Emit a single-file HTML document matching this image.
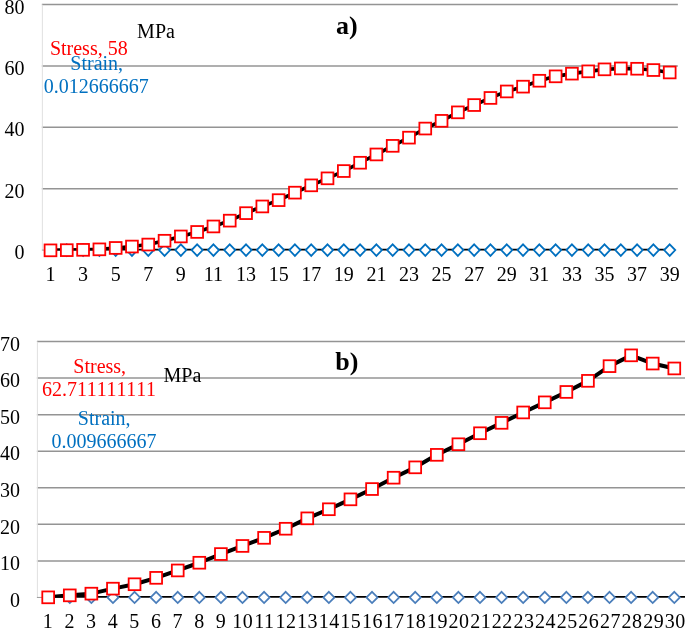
<!DOCTYPE html>
<html lang="en"><head><meta charset="utf-8"><title>Stress-strain charts</title>
<style>
html,body{margin:0;padding:0;background:#fff;}
body{width:685px;height:628px;overflow:hidden;font-family:"Liberation Serif", "Times New Roman", serif;}
svg{display:block;}
</style></head><body>
<svg width="685" height="628" viewBox="0 0 685 628" font-family='"Liberation Serif", "Times New Roman", serif' font-size="20" fill="#000">
<rect width="685" height="628" fill="#fff"/>
<defs><clipPath id="ca"><rect x="0" y="0" width="685" height="250.45"/></clipPath><clipPath id="cb"><rect x="0" y="300" width="685" height="297.75"/></clipPath></defs>
<g stroke="#949494" stroke-width="1.5">
<line x1="41.85" y1="188.72" x2="677.85" y2="188.72"/>
<line x1="41.85" y1="127.35" x2="677.85" y2="127.35"/>
<line x1="41.85" y1="65.97" x2="677.85" y2="65.97"/>
<line x1="41.85" y1="4.6" x2="677.85" y2="4.6"/>
<line x1="36.9" y1="560.89" x2="685" y2="560.89"/>
<line x1="36.9" y1="524.34" x2="685" y2="524.34"/>
<line x1="36.9" y1="487.78" x2="685" y2="487.78"/>
<line x1="36.9" y1="451.23" x2="685" y2="451.23"/>
<line x1="36.9" y1="414.67" x2="685" y2="414.67"/>
<line x1="36.9" y1="378.12" x2="685" y2="378.12"/>
<line x1="36.9" y1="341.56" x2="685" y2="341.56"/>
</g>
<g stroke="#e0e0e0" stroke-width="1">
<line x1="42.35" y1="4.6" x2="42.35" y2="250.1"/>
<line x1="37.4" y1="341.56" x2="37.4" y2="597.45"/>
</g>
<g stroke="#9a9a9a" stroke-width="1">
<line x1="41.85" y1="250.1" x2="50.5" y2="250.1"/>
<line x1="36.9" y1="597.45" x2="48.2" y2="597.45"/>
</g>
<g text-anchor="end">
<text x="24.6" y="259.2">0</text>
<text x="24.6" y="197.82">20</text>
<text x="24.6" y="136.45">40</text>
<text x="24.6" y="75.07">60</text>
<text x="24.6" y="13.7">80</text>
<text x="19.9" y="606.7">0</text>
<text x="19.9" y="570.14">10</text>
<text x="19.9" y="533.59">20</text>
<text x="19.9" y="497.03">30</text>
<text x="19.9" y="460.48">40</text>
<text x="19.9" y="423.92">50</text>
<text x="19.9" y="387.37">60</text>
<text x="19.9" y="350.81">70</text>
</g>
<g text-anchor="middle">
<text x="50.5" y="280.5">1</text>
<text x="83.09" y="280.5">3</text>
<text x="115.68" y="280.5">5</text>
<text x="148.27" y="280.5">7</text>
<text x="180.86" y="280.5">9</text>
<text x="213.45" y="280.5">11</text>
<text x="246.04" y="280.5">13</text>
<text x="278.63" y="280.5">15</text>
<text x="311.22" y="280.5">17</text>
<text x="343.81" y="280.5">19</text>
<text x="376.39" y="280.5">21</text>
<text x="408.98" y="280.5">23</text>
<text x="441.57" y="280.5">25</text>
<text x="474.16" y="280.5">27</text>
<text x="506.75" y="280.5">29</text>
<text x="539.34" y="280.5">31</text>
<text x="571.93" y="280.5">33</text>
<text x="604.52" y="280.5">35</text>
<text x="637.11" y="280.5">37</text>
<text x="669.7" y="280.5">39</text>
<text x="47.8" y="627.6">1</text>
<text x="69.42" y="627.6">2</text>
<text x="91.05" y="627.6">3</text>
<text x="112.69" y="627.6">4</text>
<text x="134.31" y="627.6">5</text>
<text x="155.94" y="627.6">6</text>
<text x="177.58" y="627.6">7</text>
<text x="199.21" y="627.6">8</text>
<text x="220.83" y="627.6">9</text>
<text x="242.72" y="627.6" letter-spacing="0.5">10</text>
<text x="264.34" y="627.6" letter-spacing="0.5">11</text>
<text x="285.98" y="627.6" letter-spacing="0.5">12</text>
<text x="307.61" y="627.6" letter-spacing="0.5">13</text>
<text x="329.23" y="627.6" letter-spacing="0.5">14</text>
<text x="350.87" y="627.6" letter-spacing="0.5">15</text>
<text x="372.5" y="627.6" letter-spacing="0.5">16</text>
<text x="394.12" y="627.6" letter-spacing="0.5">17</text>
<text x="415.75" y="627.6" letter-spacing="0.5">18</text>
<text x="437.39" y="627.6" letter-spacing="0.5">19</text>
<text x="459.01" y="627.6" letter-spacing="0.5">20</text>
<text x="480.64" y="627.6" letter-spacing="0.5">21</text>
<text x="502.27" y="627.6" letter-spacing="0.5">22</text>
<text x="523.9" y="627.6" letter-spacing="0.5">23</text>
<text x="545.53" y="627.6" letter-spacing="0.5">24</text>
<text x="567.17" y="627.6" letter-spacing="0.5">25</text>
<text x="588.79" y="627.6" letter-spacing="0.5">26</text>
<text x="610.42" y="627.6" letter-spacing="0.5">27</text>
<text x="632.06" y="627.6" letter-spacing="0.5">28</text>
<text x="653.68" y="627.6" letter-spacing="0.5">29</text>
<text x="675.31" y="627.6" letter-spacing="0.5">30</text>
</g>
<line x1="50.5" y1="250.1" x2="669.7" y2="250.1" stroke="#000" stroke-width="2.6" clip-path="url(#ca)"/>
<g fill="#fff" stroke="#0070c0" stroke-width="1.8">
<path d="M66.79 244.3L72.34 250.1L66.79 255.9L61.24 250.1Z"/>
<path d="M83.09 244.3L88.64 250.1L83.09 255.9L77.54 250.1Z"/>
<path d="M99.38 244.3L104.93 250.1L99.38 255.9L93.83 250.1Z"/>
<path d="M115.68 244.3L121.23 250.1L115.68 255.9L110.13 250.1Z"/>
<path d="M131.97 244.3L137.52 250.1L131.97 255.9L126.42 250.1Z"/>
<path d="M148.27 244.3L153.82 250.1L148.27 255.9L142.72 250.1Z"/>
<path d="M164.56 244.3L170.11 250.1L164.56 255.9L159.01 250.1Z"/>
<path d="M180.86 244.3L186.41 250.1L180.86 255.9L175.31 250.1Z"/>
<path d="M197.15 244.3L202.7 250.1L197.15 255.9L191.6 250.1Z"/>
<path d="M213.45 244.3L219 250.1L213.45 255.9L207.9 250.1Z"/>
<path d="M229.74 244.3L235.29 250.1L229.74 255.9L224.19 250.1Z"/>
<path d="M246.04 244.3L251.59 250.1L246.04 255.9L240.49 250.1Z"/>
<path d="M262.33 244.3L267.88 250.1L262.33 255.9L256.78 250.1Z"/>
<path d="M278.63 244.3L284.18 250.1L278.63 255.9L273.08 250.1Z"/>
<path d="M294.92 244.3L300.47 250.1L294.92 255.9L289.37 250.1Z"/>
<path d="M311.22 244.3L316.77 250.1L311.22 255.9L305.67 250.1Z"/>
<path d="M327.51 244.3L333.06 250.1L327.51 255.9L321.96 250.1Z"/>
<path d="M343.81 244.3L349.36 250.1L343.81 255.9L338.26 250.1Z"/>
<path d="M360.1 244.3L365.65 250.1L360.1 255.9L354.55 250.1Z"/>
<path d="M376.39 244.3L381.94 250.1L376.39 255.9L370.84 250.1Z"/>
<path d="M392.69 244.3L398.24 250.1L392.69 255.9L387.14 250.1Z"/>
<path d="M408.98 244.3L414.53 250.1L408.98 255.9L403.43 250.1Z"/>
<path d="M425.28 244.3L430.83 250.1L425.28 255.9L419.73 250.1Z"/>
<path d="M441.57 244.3L447.12 250.1L441.57 255.9L436.02 250.1Z"/>
<path d="M457.87 244.3L463.42 250.1L457.87 255.9L452.32 250.1Z"/>
<path d="M474.16 244.3L479.71 250.1L474.16 255.9L468.61 250.1Z"/>
<path d="M490.46 244.3L496.01 250.1L490.46 255.9L484.91 250.1Z"/>
<path d="M506.75 244.3L512.3 250.1L506.75 255.9L501.2 250.1Z"/>
<path d="M523.05 244.3L528.6 250.1L523.05 255.9L517.5 250.1Z"/>
<path d="M539.34 244.3L544.89 250.1L539.34 255.9L533.79 250.1Z"/>
<path d="M555.64 244.3L561.19 250.1L555.64 255.9L550.09 250.1Z"/>
<path d="M571.93 244.3L577.48 250.1L571.93 255.9L566.38 250.1Z"/>
<path d="M588.23 244.3L593.78 250.1L588.23 255.9L582.68 250.1Z"/>
<path d="M604.52 244.3L610.07 250.1L604.52 255.9L598.97 250.1Z"/>
<path d="M620.82 244.3L626.37 250.1L620.82 255.9L615.27 250.1Z"/>
<path d="M637.11 244.3L642.66 250.1L637.11 255.9L631.56 250.1Z"/>
<path d="M653.41 244.3L658.96 250.1L653.41 255.9L647.86 250.1Z"/>
<path d="M669.7 244.3L675.25 250.1L669.7 255.9L664.15 250.1Z"/>
</g>
<polyline points="50.5,250.35 66.79,250.15 83.09,249.85 99.38,249.35 115.68,247.95 131.97,246.55 148.27,244.55 164.56,240.75 180.86,236.45 197.15,231.95 213.45,226.45 229.74,220.65 246.04,213.15 262.33,206.45 278.63,200.15 294.92,192.65 311.22,185.35 327.51,178.35 343.81,171.05 360.1,162.75 376.39,154.45 392.69,145.85 408.98,137.65 425.28,128.55 441.57,120.85 457.87,112.35 474.16,105.05 490.46,97.95 506.75,91.45 523.05,86.65 539.34,80.75 555.64,76.35 571.93,73.65 588.23,71.35 604.52,69.35 620.82,68.45 637.11,68.75 653.41,70.05 669.7,72.45" fill="none" stroke="#000" stroke-width="3.6" stroke-linejoin="round" clip-path="url(#ca)"/>
<g fill="#fff" stroke="#ff0000" stroke-width="1.8">
<rect x="44.6" y="244.45" width="11.8" height="11.8"/>
<rect x="60.89" y="244.25" width="11.8" height="11.8"/>
<rect x="77.19" y="243.95" width="11.8" height="11.8"/>
<rect x="93.48" y="243.45" width="11.8" height="11.8"/>
<rect x="109.78" y="242.05" width="11.8" height="11.8"/>
<rect x="126.07" y="240.65" width="11.8" height="11.8"/>
<rect x="142.37" y="238.65" width="11.8" height="11.8"/>
<rect x="158.66" y="234.85" width="11.8" height="11.8"/>
<rect x="174.96" y="230.55" width="11.8" height="11.8"/>
<rect x="191.25" y="226.05" width="11.8" height="11.8"/>
<rect x="207.55" y="220.55" width="11.8" height="11.8"/>
<rect x="223.84" y="214.75" width="11.8" height="11.8"/>
<rect x="240.14" y="207.25" width="11.8" height="11.8"/>
<rect x="256.43" y="200.55" width="11.8" height="11.8"/>
<rect x="272.73" y="194.25" width="11.8" height="11.8"/>
<rect x="289.02" y="186.75" width="11.8" height="11.8"/>
<rect x="305.32" y="179.45" width="11.8" height="11.8"/>
<rect x="321.61" y="172.45" width="11.8" height="11.8"/>
<rect x="337.91" y="165.15" width="11.8" height="11.8"/>
<rect x="354.2" y="156.85" width="11.8" height="11.8"/>
<rect x="370.49" y="148.55" width="11.8" height="11.8"/>
<rect x="386.79" y="139.95" width="11.8" height="11.8"/>
<rect x="403.08" y="131.75" width="11.8" height="11.8"/>
<rect x="419.38" y="122.65" width="11.8" height="11.8"/>
<rect x="435.67" y="114.95" width="11.8" height="11.8"/>
<rect x="451.97" y="106.45" width="11.8" height="11.8"/>
<rect x="468.26" y="99.15" width="11.8" height="11.8"/>
<rect x="484.56" y="92.05" width="11.8" height="11.8"/>
<rect x="500.85" y="85.55" width="11.8" height="11.8"/>
<rect x="517.15" y="80.75" width="11.8" height="11.8"/>
<rect x="533.44" y="74.85" width="11.8" height="11.8"/>
<rect x="549.74" y="70.45" width="11.8" height="11.8"/>
<rect x="566.03" y="67.75" width="11.8" height="11.8"/>
<rect x="582.33" y="65.45" width="11.8" height="11.8"/>
<rect x="598.62" y="63.45" width="11.8" height="11.8"/>
<rect x="614.92" y="62.55" width="11.8" height="11.8"/>
<rect x="631.21" y="62.85" width="11.8" height="11.8"/>
<rect x="647.51" y="64.15" width="11.8" height="11.8"/>
<rect x="663.8" y="66.55" width="11.8" height="11.8"/>
</g>
<line x1="48.2" y1="597.45" x2="685" y2="597.45" stroke="#000" stroke-width="2.8" clip-path="url(#cb)"/>
<g fill="#fff" stroke="#4a7ebb" stroke-width="1.8">
<path d="M69.78 591.85L75.33 597.45L69.78 603.05L64.23 597.45Z"/>
<path d="M91.38 591.85L96.92 597.45L91.38 603.05L85.83 597.45Z"/>
<path d="M112.97 591.85L118.52 597.45L112.97 603.05L107.42 597.45Z"/>
<path d="M134.56 591.85L140.11 597.45L134.56 603.05L129 597.45Z"/>
<path d="M156.15 591.85L161.7 597.45L156.15 603.05L150.59 597.45Z"/>
<path d="M177.74 591.85L183.29 597.45L177.74 603.05L172.19 597.45Z"/>
<path d="M199.33 591.85L204.88 597.45L199.33 603.05L193.78 597.45Z"/>
<path d="M220.91 591.85L226.47 597.45L220.91 603.05L215.36 597.45Z"/>
<path d="M242.5 591.85L248.06 597.45L242.5 603.05L236.95 597.45Z"/>
<path d="M264.09 591.85L269.64 597.45L264.09 603.05L258.54 597.45Z"/>
<path d="M285.69 591.85L291.24 597.45L285.69 603.05L280.13 597.45Z"/>
<path d="M307.27 591.85L312.82 597.45L307.27 603.05L301.72 597.45Z"/>
<path d="M328.86 591.85L334.41 597.45L328.86 603.05L323.31 597.45Z"/>
<path d="M350.45 591.85L356 597.45L350.45 603.05L344.9 597.45Z"/>
<path d="M372.04 591.85L377.59 597.45L372.04 603.05L366.49 597.45Z"/>
<path d="M393.63 591.85L399.19 597.45L393.63 603.05L388.08 597.45Z"/>
<path d="M415.22 591.85L420.77 597.45L415.22 603.05L409.67 597.45Z"/>
<path d="M436.81 591.85L442.37 597.45L436.81 603.05L431.26 597.45Z"/>
<path d="M458.4 591.85L463.95 597.45L458.4 603.05L452.85 597.45Z"/>
<path d="M479.99 591.85L485.54 597.45L479.99 603.05L474.44 597.45Z"/>
<path d="M501.58 591.85L507.13 597.45L501.58 603.05L496.03 597.45Z"/>
<path d="M523.17 591.85L528.72 597.45L523.17 603.05L517.62 597.45Z"/>
<path d="M544.76 591.85L550.31 597.45L544.76 603.05L539.22 597.45Z"/>
<path d="M566.36 591.85L571.9 597.45L566.36 603.05L560.81 597.45Z"/>
<path d="M587.94 591.85L593.49 597.45L587.94 603.05L582.39 597.45Z"/>
<path d="M609.53 591.85L615.08 597.45L609.53 603.05L603.99 597.45Z"/>
<path d="M631.12 591.85L636.67 597.45L631.12 603.05L625.58 597.45Z"/>
<path d="M652.71 591.85L658.26 597.45L652.71 603.05L647.16 597.45Z"/>
<path d="M674.3 591.85L679.85 597.45L674.3 603.05L668.75 597.45Z"/>
</g>
<polyline points="48.2,597.35 69.78,595.35 91.38,593.65 112.97,588.65 134.56,584.25 156.15,577.85 177.74,570.45 199.33,562.75 220.91,554.05 242.5,545.95 264.09,537.85 285.69,528.75 307.27,518.35 328.86,509.25 350.45,499.35 372.04,489.05 393.63,477.7 415.22,467.35 436.81,454.85 458.4,444.25 479.99,433.25 501.58,422.85 523.17,412.45 544.76,402.35 566.36,391.95 587.94,380.85 609.53,366.15 631.12,355.35 652.71,363.55 674.3,368.45" fill="none" stroke="#000" stroke-width="4" stroke-linejoin="round" clip-path="url(#cb)"/>
<g fill="#fff" stroke="#ff0000" stroke-width="1.8">
<rect x="42.3" y="591.45" width="11.8" height="11.8"/>
<rect x="63.88" y="589.45" width="11.8" height="11.8"/>
<rect x="85.47" y="587.75" width="11.8" height="11.8"/>
<rect x="107.06" y="582.75" width="11.8" height="11.8"/>
<rect x="128.66" y="578.35" width="11.8" height="11.8"/>
<rect x="150.25" y="571.95" width="11.8" height="11.8"/>
<rect x="171.84" y="564.55" width="11.8" height="11.8"/>
<rect x="193.43" y="556.85" width="11.8" height="11.8"/>
<rect x="215.01" y="548.15" width="11.8" height="11.8"/>
<rect x="236.6" y="540.05" width="11.8" height="11.8"/>
<rect x="258.19" y="531.95" width="11.8" height="11.8"/>
<rect x="279.79" y="522.85" width="11.8" height="11.8"/>
<rect x="301.38" y="512.45" width="11.8" height="11.8"/>
<rect x="322.96" y="503.35" width="11.8" height="11.8"/>
<rect x="344.56" y="493.45" width="11.8" height="11.8"/>
<rect x="366.14" y="483.15" width="11.8" height="11.8"/>
<rect x="387.74" y="471.8" width="11.8" height="11.8"/>
<rect x="409.32" y="461.45" width="11.8" height="11.8"/>
<rect x="430.92" y="448.95" width="11.8" height="11.8"/>
<rect x="452.5" y="438.35" width="11.8" height="11.8"/>
<rect x="474.09" y="427.35" width="11.8" height="11.8"/>
<rect x="495.69" y="416.95" width="11.8" height="11.8"/>
<rect x="517.27" y="406.55" width="11.8" height="11.8"/>
<rect x="538.87" y="396.45" width="11.8" height="11.8"/>
<rect x="560.46" y="386.05" width="11.8" height="11.8"/>
<rect x="582.04" y="374.95" width="11.8" height="11.8"/>
<rect x="603.63" y="360.25" width="11.8" height="11.8"/>
<rect x="625.23" y="349.45" width="11.8" height="11.8"/>
<rect x="646.81" y="357.65" width="11.8" height="11.8"/>
<rect x="668.4" y="362.55" width="11.8" height="11.8"/>
</g>
<g text-anchor="middle">
<text x="156" y="38.4">MPa</text>
<text x="88.8" y="55.1" fill="#ff0000">Stress, 58</text>
<text x="96.7" y="69.8" fill="#0070c0">Strain,</text>
<text x="96.3" y="93.1" fill="#0070c0">0.012666667</text>
<text x="346.8" y="33.7" font-size="26" font-weight="bold">a)</text>
<text x="99.7" y="372.7" fill="#ff0000">Stress,</text>
<text x="42" y="396.4" fill="#ff0000" text-anchor="start">62.7<tspan letter-spacing="0.6">11111111</tspan></text>
<text x="182.4" y="382.4">MPa</text>
<text x="104.2" y="424.8" fill="#0070c0">Strain,</text>
<text x="104" y="447.6" fill="#0070c0">0.009666667</text>
<text x="346.9" y="369.7" font-size="26" font-weight="bold">b)</text>
</g>
</svg>
</body></html>
